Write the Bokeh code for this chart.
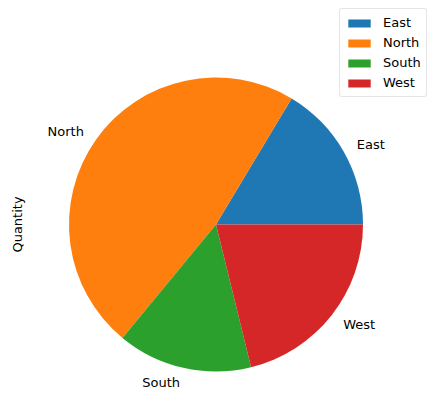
import numpy as np
from bokeh.plotting import figure, ColumnDataSource
from bokeh.models import Range1d, Legend, LegendItem, Label
from bokeh.core.properties import value
from bokeh.embed import file_html
from bokeh.resources import INLINE

regions = ["East", "North", "South", "West"]
quantity = [31, 90, 28, 40]
colors = ["#1f77b4", "#ff7f0e", "#2ca02c", "#d62728"]

W, H = 439, 419
cx, cy, r = 215.5, H - 224, 147

q = np.array(quantity, dtype=float)
frac = q / q.sum()
ends = np.cumsum(frac) * 2 * np.pi
starts = np.concatenate([[0], ends[:-1]])
mids = (starts + ends) / 2

lx = cx + 1.1 * r * np.cos(mids)
ly = cy + 1.1 * r * np.sin(mids)
align = ["left" if np.cos(m) > 0 else "right" for m in mids]

src = ColumnDataSource(dict(region=regions, start=starts, end=ends, color=colors,
                            lx=lx, ly=ly, align=align))

p = figure(width=W, height=H, output_backend="svg", toolbar_location=None,
           x_range=Range1d(0, W), y_range=Range1d(0, H), min_border=0)
p.axis.visible = False
p.grid.visible = False
p.outline_line_color = None

wr = p.wedge(x=cx, y=cy, radius=r, start_angle="start", end_angle="end",
             color="color", line_color=None, source=src)

p.text(x="lx", y="ly", text="region", text_align="align", text_baseline="middle",
       text_font=value("DejaVu Sans"), text_font_size="13px", text_color="black",
       source=src)

p.add_layout(Label(x=17, y=cy, text="Quantity", angle=np.pi / 2, text_align="center",
                   text_baseline="middle", text_font="DejaVu Sans", text_font_size="13px",
                   text_color="black"))

items = [LegendItem(label=regions[i], renderers=[wr], index=i) for i in range(len(regions))]
leg = Legend(items=items, location=(339, H - 97), orientation="vertical",
             glyph_width=28, glyph_height=10, label_height=17, spacing=3,
             padding=5, margin=0, label_standoff=10,
             label_text_font="DejaVu Sans", label_text_font_size="13px",
             label_text_color="black",
             border_line_color="#cccccc", border_line_width=1,
             border_radius=3, background_fill_alpha=0.8)
p.add_layout(leg)

open("out.html", "w").write(file_html(p, INLINE))
